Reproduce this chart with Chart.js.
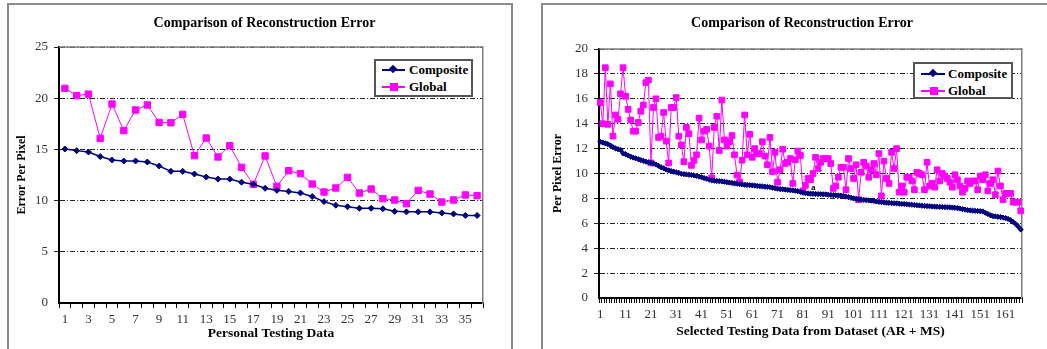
<!DOCTYPE html>
<html>
<head>
<meta charset="utf-8">
<script src="https://cdn.jsdelivr.net/npm/chart.js@4.4.1/dist/chart.umd.min.js"></script>
<style>
  body { margin: 0; background: #fff; width: 1047px; height: 349px; overflow: hidden; position: relative; }
  .panel { position: absolute; border: 2px solid #8c8c8c; box-sizing: border-box; }
  canvas { position: absolute; top: 0; }
  .legend { position: absolute; background: #fff; border: 2px solid #555; box-sizing: border-box;
            font: bold 13px "Liberation Serif", serif; color: #000; }
  .row { position: absolute; height: 16px; line-height: 16px; white-space: nowrap; }
  .row .ln { position: absolute; top: 7px; height: 2px; }
  .row .mk { position: absolute; }
  .row span { position: absolute; }
  .note { position: absolute; font: bold 9px "Liberation Serif", serif; color: #000; }
</style>
</head>
<body>
<div class="panel" style="left:7px; top:3px; width:506px; height:360px;"></div>
<div class="panel" style="left:541px; top:3px; width:520px; height:360px;"></div>
<canvas id="left" width="520" height="349" style="left:0"></canvas>
<canvas id="right" width="560" height="349" style="left:520px"></canvas>

<div class="legend" style="left:374px; top:59px; width:99px; height:38px;">
  <div class="row" style="left:6px; top:1px;">
    <div class="ln" style="left:0; width:23px; background:#000080"></div>
    <div class="mk" style="left:8px; top:4px; width:6px; height:6px; background:#000080; transform:rotate(45deg)"></div>
    <span style="left:27px">Composite</span>
  </div>
  <div class="row" style="left:6px; top:18px;">
    <div class="ln" style="left:0; width:23px; background:#ff00ff"></div>
    <div class="mk" style="left:8px; top:4px; width:8px; height:8px; background:#ff00ff"></div>
    <span style="left:27px">Global</span>
  </div>
</div>

<div class="legend" style="left:913px; top:62px; width:100px; height:37px;">
  <div class="row" style="left:6px; top:2px;">
    <div class="ln" style="left:0; width:24px; background:#000080"></div>
    <div class="mk" style="left:9px; top:4px; width:6px; height:6px; background:#000080; transform:rotate(45deg)"></div>
    <span style="left:27px">Composite</span>
  </div>
  <div class="row" style="left:6px; top:19px;">
    <div class="ln" style="left:0; width:24px; background:#ff00ff"></div>
    <div class="mk" style="left:9px; top:4px; width:8px; height:8px; background:#ff00ff"></div>
    <span style="left:27px">Global</span>
  </div>
</div>
<div class="note" style="left:811px; top:182px;">a</div>

<script>
// ---- left chart data (personal testing data) ----
const personalLabels = Array.from({length: 36}, (_, i) => String(i + 1));
const personalComposite = [
  15.04, 14.88, 14.75, 14.3, 13.96, 13.87, 13.87, 13.77, 13.38, 12.86,
  12.86, 12.6, 12.3, 12.1, 12.1, 11.8, 11.6, 11.2, 11.0, 10.9,
  10.75, 10.4, 9.9, 9.55, 9.4, 9.25, 9.25, 9.2, 8.95, 8.9,
  8.9, 8.9, 8.8, 8.7, 8.55, 8.55
];
const personalGlobal = [
  20.96, 20.25, 20.4, 16.08, 19.43, 16.83, 18.85, 19.34, 17.64, 17.6,
  18.42, 14.39, 16.11, 14.26, 15.36, 13.25, 11.59, 14.36, 11.39, 12.92,
  12.63, 11.62, 10.84, 11.23, 12.27, 10.74, 11.13, 10.19, 10.06, 9.7,
  11.0, 10.64, 9.86, 10.06, 10.55, 10.48
];

// ---- right chart data (AR + MS dataset) ----
const datasetLabels = Array.from({length: 167}, (_, i) => String(i + 1));
const datasetComposite = [
  12.55, 12.48, 12.42, 12.36, 12.25, 12.12, 12.02, 11.95, 11.9, 11.62,
  11.55, 11.45, 11.35, 11.28, 11.22, 11.15, 11.08, 11.02, 10.95, 10.9,
  10.85, 10.8, 10.72, 10.62, 10.5, 10.42, 10.32, 10.25, 10.2, 10.15,
  10.1, 10.05, 9.98, 9.95, 9.92, 9.9, 9.88, 9.85, 9.8, 9.75,
  9.7, 9.63, 9.58, 9.5, 9.45, 9.42, 9.4, 9.38, 9.36, 9.34,
  9.3, 9.27, 9.24, 9.2, 9.18, 9.15, 9.12, 9.1, 9.08, 9.06,
  9.05, 9.03, 9.0, 8.98, 8.96, 8.94, 8.92, 8.9, 8.86, 8.82,
  8.78, 8.75, 8.73, 8.71, 8.69, 8.66, 8.64, 8.62, 8.58, 8.53,
  8.46, 8.42, 8.4, 8.38, 8.37, 8.36, 8.35, 8.34, 8.33, 8.32,
  8.3, 8.28, 8.26, 8.25, 8.24, 8.22, 8.2, 8.15, 8.1, 8.05,
  8.0, 7.96, 7.92, 7.9, 7.88, 7.86, 7.84, 7.82, 7.8, 7.75,
  7.72, 7.7, 7.68, 7.66, 7.64, 7.62, 7.61, 7.6, 7.58, 7.56,
  7.55, 7.53, 7.51, 7.49, 7.47, 7.45, 7.43, 7.41, 7.4, 7.38,
  7.37, 7.35, 7.34, 7.33, 7.32, 7.31, 7.3, 7.29, 7.28, 7.27,
  7.25, 7.22, 7.18, 7.14, 7.1, 7.06, 7.04, 7.02, 7.0, 6.99,
  6.97, 6.95, 6.85, 6.75, 6.65, 6.58, 6.55, 6.52, 6.5, 6.46,
  6.42, 6.35, 6.25, 6.1, 5.95, 5.75, 5.5
];
const datasetGlobal = [
  15.7, 14.0, 18.5, 13.95, 17.2, 13.0, 14.7, 14.35, 16.4, 18.5,
  16.2, 15.15, 14.3, 13.4, 13.4, 14.1, 15.0, 15.5, 17.3, 17.5,
  10.85, 15.3, 16.0, 12.9, 13.0, 14.9, 12.6, 10.85, 15.3, 15.3,
  16.1, 13.0, 12.3, 10.95, 13.7, 13.2, 10.65, 11.05, 11.5, 14.45,
  12.7, 13.4, 13.55, 12.2, 9.65, 13.7, 14.6, 11.85, 15.9, 12.7,
  12.2, 12.55, 13.05, 11.5, 9.87, 9.33, 11.07, 14.7, 11.5, 13.15,
  11.3, 12.0, 11.6, 11.6, 12.55, 11.4, 10.7, 12.9, 10.15, 11.7,
  9.3, 10.3, 11.95, 10.8, 10.9, 11.2, 9.2, 11.1, 11.8, 11.45,
  8.6, 9.05, 9.6, 9.5, 10.0, 11.3, 10.4, 10.9, 11.2, 11.2,
  11.2, 10.8, 8.8, 9.0, 9.7, 10.5, 10.5, 8.7, 11.2, 10.4,
  9.6, 10.7, 7.9, 10.1, 10.9, 10.6, 9.7, 10.3, 10.8, 9.9,
  11.6, 8.2, 11.0, 9.6, 9.2, 11.7, 10.4, 12.0, 8.5, 9.0,
  8.5, 9.7, 9.7, 9.4, 8.7, 10.1, 10.0, 9.9, 8.7, 10.9,
  9.0, 9.2, 8.9, 10.3, 9.4, 10.0, 9.8, 9.6, 9.3, 8.9,
  9.9, 9.5, 9.0, 8.5, 8.8, 9.4, 9.2, 9.4, 9.4, 8.7,
  9.8, 9.5, 9.9, 8.6, 9.2, 9.5, 8.3, 10.2, 9.0, 7.9,
  8.4, 8.4, 8.4, 7.7, 7.7, 7.7, 7.0
];

const NAVY = '#000080';
const MAGENTA = '#ff00ff';
const SERIF = '"Liberation Serif", "Times New Roman", serif';

// gray line along the top of the plot area
const framePlugin = {
  id: 'frame',
  beforeDatasetsDraw(chart) {
    const a = chart.chartArea, ctx = chart.ctx;
    ctx.save();
    ctx.strokeStyle = '#7f7f7f';
    ctx.lineWidth = 1.5;
    ctx.beginPath();
    ctx.moveTo(a.left, a.top);
    ctx.lineTo(a.right, a.top);
    ctx.stroke();
    ctx.restore();
  }
};

function makeChart(id, cfg) {
  return new Chart(document.getElementById(id), {
    type: 'line',
    data: {
      labels: cfg.labels,
      datasets: [{
        label: 'Composite',
        data: cfg.composite,
        borderColor: NAVY,
        backgroundColor: NAVY,
        borderWidth: 1.5,
        pointStyle: 'rectRot',
        pointRadius: cfg.diamond,
        pointBorderWidth: 1,
        tension: 0
      }, {
        label: 'Global',
        data: cfg.global,
        borderColor: MAGENTA,
        backgroundColor: MAGENTA,
        borderWidth: 1,
        pointStyle: 'rect',
        pointRadius: cfg.square,
        pointBorderWidth: 1,
        tension: 0
      }]
    },
    options: {
      responsive: false,
      animation: false,
      devicePixelRatio: 1,
      layout: { padding: cfg.padding },
      plugins: {
        legend: { display: false },
        tooltip: { enabled: false },
        title: {
          display: true,
          text: 'Comparison of Reconstruction Error',
          font: { family: SERIF, size: 14, weight: 'bold' },
          color: '#000',
          padding: { top: 15, bottom: cfg.titleGap }
        }
      },
      scales: {
        x: {
          offset: true,
          afterFit: s => { s.height = cfg.xHeight; },
          grid: { display: true, drawOnChartArea: false, drawTicks: true, tickLength: 5, color: '#000', offset: true },
          border: { display: true, color: '#000', width: 2 },
          ticks: {
            autoSkip: false, maxRotation: 0, minRotation: 0, padding: 4,
            font: { family: SERIF, size: 13 }, color: '#333',
            callback: (v, i) => (i % cfg.every === 0 ? cfg.labels[i] : '')
          },
          title: {
            display: true, text: cfg.xTitle, color: '#000',
            font: { family: SERIF, size: 13.5, weight: 'bold' },
            padding: { top: 0, bottom: cfg.xTitlePad }
          }
        },
        y: {
          min: 0, max: cfg.max,
          afterFit: s => { s.width = cfg.yWidth; },
          grid: {
            color: c => (c.tick && c.tick.value === 0 ? 'rgba(0,0,0,0)' : '#222'),
            lineWidth: 1, tickLength: 5, drawTicks: true
          },
          border: { display: true, color: '#000', width: 2, dash: [5, 2, 1, 2] },
          ticks: {
            stepSize: cfg.step, padding: 6,
            font: { family: SERIF, size: 13 }, color: '#333'
          },
          title: {
            display: true, text: cfg.yTitle, color: '#000',
            font: { family: SERIF, size: 12, weight: 'bold' },
            padding: { top: 4.8, bottom: 0 }
          }
        },
        // empty right-hand axis: only its gray border line is shown (plot frame)
        yRight: {
          position: 'right',
          afterFit: s => { s.width = cfg.rightWidth; },
          grid: { display: false },
          ticks: { display: false },
          border: { display: true, color: '#7f7f7f', width: 1.5 }
        }
      }
    },
    plugins: [framePlugin]
  });
}

makeChart('left', {
  labels: personalLabels, composite: personalComposite, global: personalGlobal,
  diamond: 3, square: 4.5,
  padding: { left: 10, right: 1, top: 0, bottom: 0 },
  titleGap: 15.2, xHeight: 46, yWidth: 49, rightWidth: 36, xTitlePad: 7,
  every: 2, max: 25, step: 5,
  xTitle: 'Personal Testing Data', yTitle: 'Error Per Pixel'
});

makeChart('right', {
  labels: datasetLabels, composite: datasetComposite, global: datasetGlobal,
  diamond: 2.6, square: 4,
  padding: { left: 26, right: 22, top: 0, bottom: 0 },
  titleGap: 17.2, xHeight: 51, yWidth: 53, rightWidth: 36, xTitlePad: 9,
  every: 10, max: 20, step: 2,
  xTitle: 'Selected Testing Data from Dataset (AR + MS)', yTitle: 'Per Pixel Error'
});
</script>
</body>
</html>
